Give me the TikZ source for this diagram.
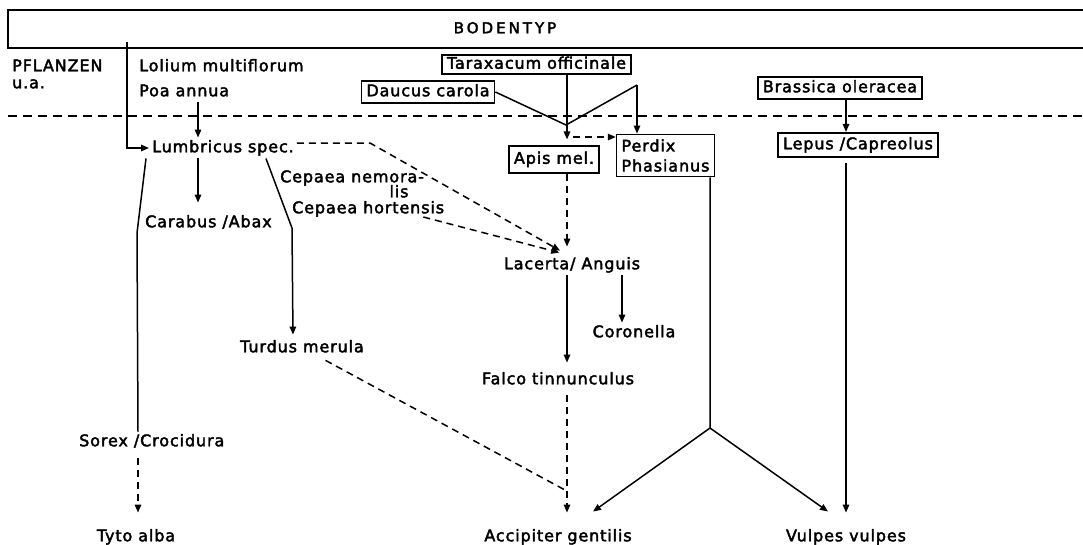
\documentclass[tikz,border=0pt]{standalone}
\usepackage{fontspec}
\setmainfont{DejaVu Sans}[LetterSpace=5.5, FakeBold=2.5]
\newfontfamily\headfont{DejaVu Sans}[LetterSpace=20, FakeBold=2.5]
\usetikzlibrary{arrows.meta}

\begin{document}
\begin{tikzpicture}[x=1pt, y=-1pt, >={Triangle[length=8pt,width=6.5pt]}]
  \tikzset{
    every node/.style={font=\fontsize{16}{18}\selectfont, inner sep=3pt, text height=11.5pt, text depth=3pt},
    taxbox/.style={draw, line width=1.6pt, inner xsep=5pt, inner ysep=4pt},
    link/.style={line width=1.5pt},
    arr/.style={link, ->},
    dasharr/.style={link, ->, dash pattern=on 7pt off 5pt},
    sepline/.style={line width=1.3pt, dash pattern=on 9pt off 6pt}
  }
  \useasboundingbox (0,0) rectangle (1083,544);

  % soil band and level line
  \draw[line width=1.7pt] (1083,10) -- (8,10) -- (8,48) -- (1083,48);
  \node[font={\headfont\fontsize{15}{17}\selectfont}] (bodentyp) at (505,29) {BODENTYP};
  \draw[sepline] (8,116) -- (1083,116);

  % columns
  \coordinate (colT) at (138,0);
  \coordinate (colA) at (198,0);
  \coordinate (colD) at (293,0);
  \coordinate (colL) at (567,0);
  \coordinate (colC) at (622,0);
  \coordinate (colR) at (846,0);

  % plants
  \node[anchor=west] (pflanzen) at (9,67) {PFLANZEN};
  \node[anchor=west] (ua) at (9,84) {u.a.};
  \node[anchor=west] (lolium) at (136,67) {Lolium multiflorum};
  \node[anchor=west] (poa) at (136,92) {Poa annua};
  \node[taxbox, inner ysep=2.5pt] (taraxacum) at (536.5,64.5) {Taraxacum officinale};
  \node[taxbox] (daucus) at (428,92) {Daucus carola};
  \node[taxbox] (brassica) at (840,88) {Brassica oleracea};

  % animals
  \node[anchor=west] (lumbricus) at (149,148) {Lumbricus spec.};
  \node[anchor=west] (carabus) at (142,223) {Carabus /Abax};
  \node[anchor=west] (cepaeaN) at (277,178) {Cepaea nemora-};
  \node (cepaeaL) at (399,193) {lis};
  \node[anchor=west] (cepaeaH) at (289,209) {Cepaea hortensis};
  \node (turdus) at (302,348) {Turdus merula};
  \node[anchor=west] (sorex) at (76,442) {Sorex /Crocidura};
  \node[taxbox, inner ysep=6pt] (apis) at (554,159.5) {Apis mel.};
  \node[taxbox, align=left, inner ysep=5pt, text height=, text depth=] (perdix) at (665.5,155.5) {Perdix\\[2pt]Phasianus};
  \node[taxbox, inner ysep=5pt] (lepus) at (858,145) {Lepus /Capreolus};
  \node (lacerta) at (572,265) {Lacerta/ Anguis};
  \node (coronella) at (634,333) {Coronella};
  \node (falco) at (558,380) {Falco tinnunculus};

  % top predators
  \node (tyto) at (136,537) {Tyto alba};
  \node (accipiter) at (558,537) {Accipiter gentilis};
  \node (vulpes) at (846,537) {Vulpes vulpes};

  % soil and plants to the first consumers
  \coordinate (soil) at (127,42);
  \draw[arr] (soil) -- (soil |- lumbricus.west) -- (lumbricus.west);
  \draw[arr] (colA |- poa.south) -- (colA |- lumbricus.north);
  \draw[arr, shorten >=6pt] (colL |- taraxacum.south) -- (colL |- apis.north);
  \coordinate (knot) at (566,125);
  \coordinate (peak) at (637,85);
  \draw[link] (daucus.east) -- (knot) -- (peak);
  \draw[arr] (peak) -- (peak |- perdix.north);
  \coordinate (tip) at (567,137);
  \draw[dasharr, shorten <=6pt] (tip) -- (tip -| perdix.west);
  \draw[arr] (colR |- brassica.south) -- (colR |- lepus.north);

  % Lumbricus branch
  \draw[arr, shorten >=10pt] (colA |- lumbricus.south) -- (colA |- carabus.north);
  \draw[link] ([xshift=-3pt]lumbricus.south west) -- (137,233) -- (colT |- sorex.north);
  \draw[dasharr, shorten <=6pt, shorten >=14pt] (colT |- sorex.south) -- (colT |- tyto.north);
  \draw[arr, shorten >=3pt] ([xshift=-31pt]lumbricus.south east) -- (292,228) -- (colD |- turdus.north);
  \draw[dasharr, shorten >=8pt] ([yshift=5pt]lumbricus.east) -- (370,143) -- (colL |- lacerta.north);
  \draw[dasharr, shorten >=8pt] ([xshift=-24pt,yshift=-8pt]cepaeaH.east) -- (colL |- lacerta.north);

  % middle column
  \draw[dasharr, shorten >=8pt] (colL |- apis.south) -- (colL |- lacerta.north);
  \draw[arr, shorten >=7pt] (colL |- lacerta.south) -- (colL |- falco.north);
  \draw[arr] (colC |- lacerta.south) -- (colC |- coronella.north);
  \draw[dasharr, shorten <=5pt, shorten >=14pt] (colL |- falco.south) -- (colL |- accipiter.north);
  \coordinate (merge) at (565,490);
  \draw[link, dash pattern=on 7pt off 5pt, shorten <=4pt] ([xshift=20pt]turdus.south) -- (merge);

  % right side
  \coordinate (fork) at (710,428);
  \draw[link] ([xshift=-5pt]perdix.south east) -- (fork);
  \draw[arr] (fork) -- ([xshift=35pt,yshift=15pt]accipiter.north);
  \draw[arr] (fork) -- ([xshift=-18pt,yshift=15pt]vulpes.north);
  \draw[arr, shorten <=5pt, shorten >=14pt] (colR |- lepus.south) -- (colR |- vulpes.north);
\end{tikzpicture}
\end{document}
